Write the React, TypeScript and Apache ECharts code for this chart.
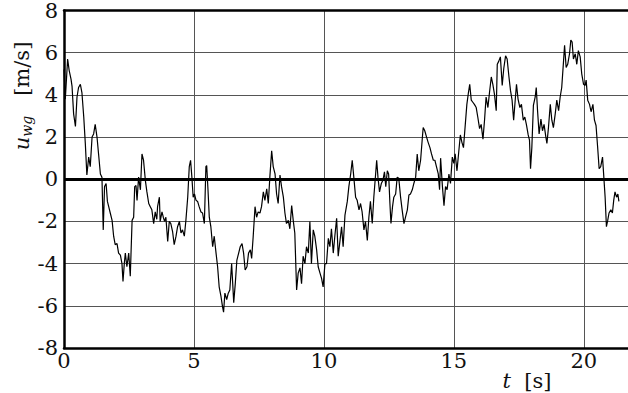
import React, { useEffect, useRef } from "react";
import * as echarts from "echarts";

const times: number[] = [
  0.0, 0.05, 0.14, 0.2, 0.27, 0.31, 0.37, 0.44, 0.5, 0.56, 0.63, 0.69, 0.76, 0.82, 0.88, 0.95,
  1.01, 1.08, 1.14, 1.2, 1.27, 1.33, 1.4, 1.46, 1.51, 1.56, 1.62, 1.67, 1.72, 1.78, 1.85, 1.91,
  1.97, 2.04, 2.1, 2.17, 2.23, 2.27, 2.32, 2.36, 2.42, 2.49, 2.55, 2.62, 2.68, 2.72, 2.77, 2.81,
  2.87, 2.94, 3.0, 3.06, 3.13, 3.19, 3.26, 3.32, 3.38, 3.45, 3.51, 3.57, 3.6, 3.67, 3.7, 3.77,
  3.82, 3.87, 3.92, 3.99, 4.05, 4.11, 4.18, 4.24, 4.31, 4.37, 4.44, 4.5, 4.56, 4.63, 4.69, 4.76,
  4.82, 4.87, 4.92, 4.97, 5.02, 5.08, 5.14, 5.2, 5.27, 5.33, 5.4, 5.46, 5.49, 5.54, 5.59, 5.65,
  5.72, 5.78, 5.85, 5.91, 5.97, 6.04, 6.1, 6.14, 6.19, 6.26, 6.32, 6.38, 6.45, 6.53, 6.59, 6.65,
  6.72, 6.78, 6.85, 6.91, 6.97, 7.04, 7.1, 7.17, 7.22, 7.28, 7.35, 7.41, 7.47, 7.54, 7.6, 7.67,
  7.73, 7.8, 7.86, 7.92, 7.99, 8.05, 8.12, 8.18, 8.24, 8.31, 8.37, 8.44, 8.5, 8.56, 8.63, 8.69,
  8.76, 8.82, 8.88, 8.95, 9.01, 9.08, 9.14, 9.2, 9.27, 9.33, 9.4, 9.46, 9.52, 9.59, 9.65, 9.72,
  9.78, 9.85, 9.91, 9.97, 10.04, 10.1, 10.17, 10.23, 10.29, 10.36, 10.42, 10.49, 10.55, 10.62, 10.68, 10.74,
  10.81, 10.9, 10.96, 11.03, 11.09, 11.15, 11.22, 11.28, 11.35, 11.41, 11.47, 11.54, 11.6, 11.67, 11.73, 11.79,
  11.86, 11.92, 11.99, 12.03, 12.08, 12.14, 12.21, 12.27, 12.33, 12.38, 12.44, 12.49, 12.54, 12.58, 12.64, 12.69,
  12.76, 12.82, 12.88, 12.95, 13.01, 13.08, 13.14, 13.21, 13.27, 13.33, 13.4, 13.46, 13.53, 13.59, 13.65, 13.72,
  13.78, 13.82, 13.88, 13.95, 14.01, 14.08, 14.14, 14.21, 14.27, 14.33, 14.4, 14.45, 14.49, 14.56, 14.62, 14.68,
  14.74, 14.81, 14.87, 14.94, 15.0, 15.05, 15.12, 15.18, 15.25, 15.31, 15.37, 15.44, 15.5, 15.56, 15.61, 15.67,
  15.73, 15.79, 15.86, 15.92, 15.99, 16.05, 16.12, 16.18, 16.24, 16.31, 16.37, 16.44, 16.5, 16.56, 16.63, 16.67,
  16.73, 16.79, 16.86, 16.92, 16.99, 17.05, 17.12, 17.18, 17.24, 17.3, 17.37, 17.41, 17.47, 17.54, 17.6, 17.67,
  17.73, 17.79, 17.86, 17.91, 17.95, 18.0, 18.06, 18.13, 18.17, 18.22, 18.28, 18.35, 18.41, 18.47, 18.54, 18.58,
  18.64, 18.71, 18.77, 18.83, 18.9, 18.96, 19.03, 19.09, 19.15, 19.22, 19.26, 19.32, 19.38, 19.45, 19.5, 19.55,
  19.6, 19.67, 19.73, 19.79, 19.86, 19.92, 19.99, 20.05, 20.09, 20.15, 20.22, 20.28, 20.35, 20.41, 20.47, 20.53,
  20.59, 20.65, 20.72, 20.77, 20.82, 20.87, 20.92, 20.97, 21.04, 21.1, 21.15, 21.2, 21.26, 21.31, 21.35,
];

const uwg: number[] = [
  5.2, 3.8, 5.7, 5.15, 4.75, 4.4, 3.1, 2.5, 3.9, 4.35, 4.5, 4.1, 2.95, 1.7, 0.2, 1.05,
  0.6, 2.0, 2.15, 2.6, 2.0, 1.2, 0.25, 0.1, -2.4, -0.35, -0.2, -1.05, -1.3, -1.6, -1.95, -2.7,
  -3.1, -3.05, -3.5, -3.6, -4.0, -4.85, -4.0, -3.5, -4.15, -3.5, -4.6, -1.95, -1.8, -0.35, -0.3, -1.0,
  0.1, -0.5, 1.2, 0.9, -0.05, -0.6, -1.15, -1.3, -1.45, -2.1, -1.55, -1.9, -1.3, -0.85, -2.0, -1.55,
  -1.8, -2.0, -1.8, -2.95, -2.0, -2.1, -2.5, -3.1, -2.7, -2.25, -2.0, -2.55, -2.4, -2.7, -1.95, -0.85,
  0.6, 0.9, 0.1, -0.85, -0.7, -1.0, -1.05, -1.3, -1.55, -1.6, -2.1, 0.6, 0.65, -0.5, -1.8, -2.25,
  -3.2, -2.7, -3.5, -4.15, -5.1, -5.55, -6.05, -6.3, -5.4, -5.7, -5.4, -5.25, -4.0, -5.85, -4.95, -3.85,
  -3.5, -3.2, -3.05, -3.5, -4.3, -4.15, -3.5, -3.35, -3.75, -2.7, -1.3, -1.8, -1.55, -1.6, -1.3, -0.6,
  -1.0, -0.45, -1.15, 0.1, 1.35, 0.6, 0.25, -0.7, -1.15, 0.2, -0.35, -0.85, -1.6, -2.1, -1.95, -2.35,
  -1.25, -1.95, -2.55, -5.25, -4.45, -4.2, -4.95, -3.65, -4.0, -3.2, -3.5, -2.0, -4.0, -2.4, -2.7, -3.35,
  -4.15, -4.45, -4.7, -5.1, -4.0, -4.0, -2.8, -3.2, -2.35, -3.5, -2.7, -1.85, -3.65, -2.9, -2.25, -3.2,
  -1.7, -1.05, -0.35, 0.25, 0.9, 0.1, -0.85, -1.0, -1.45, -1.15, -1.55, -2.4, -2.0, -2.9, -1.8, -1.05,
  -2.1, -0.85, 0.25, 0.9, 0.1, -0.6, -0.2, -0.05, 0.35, -0.35, 0.4, 0.25, -1.15, -2.1, -1.3, -0.85,
  -0.7, 0.1, 0.05, -0.85, -1.45, -2.1, -1.8, -1.45, -0.75, -0.7, -0.5, -0.2, 0.1, 1.2, 0.4, 0.9,
  1.85, 2.45, 2.3, 2.0, 1.75, 1.5, 1.2, 0.9, 0.9, 0.6, 0.25, -0.5, 1.0, -0.35, -1.25, -0.35,
  -0.5, 0.25, -0.2, 1.05, 0.75, 1.2, 0.4, 1.2, 2.1, 1.75, 1.5, 2.6, 3.55, 4.1, 4.5, 3.75,
  3.65, 3.55, 3.4, 2.95, 2.4, 2.6, 1.9, 2.8, 3.9, 3.4, 4.1, 4.85, 4.5, 4.05, 3.25, 5.45,
  5.6, 5.8, 4.45, 5.25, 5.85, 5.7, 4.85, 4.2, 3.75, 2.8, 3.9, 4.5, 3.8, 3.4, 3.55, 2.8,
  2.95, 2.6, 2.1, 1.85, 0.5, 1.5, 3.5, 3.9, 4.35, 3.25, 2.15, 2.85, 2.3, 2.6, 2.0, 1.7,
  2.45, 3.55, 2.8, 2.45, 3.1, 3.75, 3.25, 3.9, 4.35, 5.6, 6.35, 5.3, 5.45, 5.95, 6.6, 6.5,
  5.7, 5.95, 5.45, 6.1, 5.8, 5.0, 4.5, 4.45, 4.7, 3.75, 3.55, 3.2, 3.55, 2.8, 2.55, 1.55,
  0.5, 0.6, 1.05, 0.1, -0.85, -2.25, -1.95, -1.6, -1.45, -1.6, -1.0, -0.6, -0.85, -0.7, -1.05,
];

const X_MIN = 0;
const X_MAX = 21.7;
const X_STEP = 5;
const Y_MIN = -8;
const Y_MAX = 8;
const Y_STEP = 2;

const FONT = "DejaVu Serif";
const FS = 21;

export default function App() {
  const ref = useRef<HTMLDivElement>(null);

  useEffect(() => {
    if (!ref.current) return;
    const chart = echarts.init(ref.current, undefined, { renderer: "svg" });
    const data = times.map((t, i) => [t, uwg[i]]);
    chart.setOption({
      animation: false,
      backgroundColor: "#ffffff",
      textStyle: { fontFamily: FONT },
      grid: { left: 64, right: 0, top: 10, bottom: 45 },
      xAxis: [
        {
          type: "value",
          min: X_MIN,
          max: X_MAX,
          interval: X_STEP,
          axisLine: { show: true, onZero: false, lineStyle: { color: "#000", width: 2.5 } },
          axisTick: { show: false },
          axisLabel: {
            showMaxLabel: false,
            color: "#111",
            fontFamily: FONT,
            fontSize: FS,
            margin: 2,
          },
          splitLine: { show: true, lineStyle: { color: "#555", width: 1 } },
        },
        {
          type: "value",
          position: "top",
          min: X_MIN,
          max: X_MAX,
          interval: X_STEP,
          axisLine: { show: true, onZero: false, lineStyle: { color: "#000", width: 2.5 } },
          axisTick: { show: false },
          axisLabel: { show: false },
          splitLine: { show: false },
        },
      ],
      yAxis: {
        type: "value",
        min: Y_MIN,
        max: Y_MAX,
        interval: Y_STEP,
        axisLine: { show: true, onZero: false, lineStyle: { color: "#000", width: 2.5 } },
        axisTick: { show: false },
        axisLabel: {
          color: "#111",
          fontFamily: FONT,
          fontSize: FS,
          margin: 6,
        },
        splitLine: { show: true, lineStyle: { color: "#555", width: 1 } },
      },
      series: [
        {
          type: "line",
          data,
          xAxisIndex: 0,
          showSymbol: false,
          symbol: "none",
          lineStyle: { color: "#000", width: 1.2 },
          z: 5,
          markLine: {
            silent: true,
            symbol: "none",
            label: { show: false },
            lineStyle: { color: "#000", width: 3, type: "solid" },
            data: [{ yAxis: 0 }],
            z: 4,
          },
        },
      ],
      graphic: [
        {
          type: "text",
          x: 22,
          y: 96,
          rotation: Math.PI / 2,
          style: {
            text: "{i|u}{s|wg}{n|   [m/s]}",
            align: "center",
            verticalAlign: "middle",
            fill: "#111",
            rich: {
              i: { fontFamily: FONT, fontStyle: "italic", fontSize: FS, fill: "#111" },
              s: { fontFamily: FONT, fontStyle: "italic", fontSize: 14, fill: "#111", verticalAlign: "bottom", padding: [10, 0, 0, 0] },
              n: { fontFamily: FONT, fontSize: FS, fill: "#111" },
            },
          },
        },
        {
          type: "text",
          x: 527,
          y: 381,
          style: {
            text: "{i|t}{n|  [s]}",
            align: "center",
            verticalAlign: "middle",
            fill: "#111",
            rich: {
              i: { fontFamily: FONT, fontStyle: "italic", fontSize: FS, fill: "#111" },
              n: { fontFamily: FONT, fontSize: FS, fill: "#111" },
            },
          },
        },
      ],
    });
    return () => chart.dispose();
  }, []);

  return (
    <div
      ref={ref}
      style={{ position: "absolute", left: 0, top: 0, width: 628, height: 393, background: "#fff" }}
    />
  );
}
